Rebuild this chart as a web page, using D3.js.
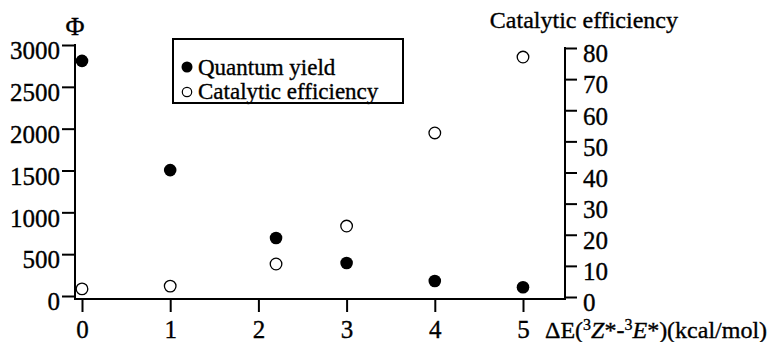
<!DOCTYPE html>
<html>
<head>
<meta charset="utf-8">
<script src="https://cdn.jsdelivr.net/npm/d3@7"></script>
<style>
  body { margin: 0; background: #fff; }
  svg text { font-family: "Liberation Serif", "Times New Roman", "DejaVu Serif", serif; fill: #000; stroke: #000; stroke-width: 0.35px; }
</style>
</head>
<body>
<div class="chart"></div>
<script>
// data
var deltaE = [0, 1, 2.2, 3, 4, 5];
var quantumYield = [2810, 1505, 693, 394, 180, 105];
var catalyticEff = [2.6, 3.5, 10.6, 22.8, 52.7, 77.1];
var leftTicks = [0, 500, 1000, 1500, 2000, 2500, 3000];
var rightTicks = [0, 10, 20, 30, 40, 50, 60, 70, 80];
var xTicks = [0, 1, 2, 3, 4, 5];

var svgWidth = 770;
var svgHeight = 342;
var serif = "Liberation Serif, Times New Roman, serif";

var svg = d3.select(".chart")
  .append("svg")
  .attr("width", svgWidth)
  .attr("height", svgHeight);

var xScale = d3.scaleLinear().domain([0, 5]).range([82, 523]);
var yLeft = d3.scaleLinear().domain([0, 3000]).range([296, 45]);
var yRight = d3.scaleLinear().domain([0, 80]).range([297, 48]);

var axisLeftX = 75, axisRightX = 565, axisBottomY = 299;

// left axis
var leftAxis = d3.axisLeft(yLeft).tickValues(leftTicks).tickFormat(d3.format("d"))
  .tickSize(13).tickSizeOuter(0).tickPadding(2);
var gl = svg.append("g")
  .attr("transform", "translate(" + axisLeftX + ",0)")
  .call(leftAxis);
gl.attr("font-family", serif);
gl.select(".domain").remove();
gl.selectAll("line").attr("stroke", "#000").attr("stroke-width", 2);
gl.selectAll("text").attr("font-size", "25px").attr("dy", "0.55em");

// right axis
var rightAxis = d3.axisRight(yRight).tickValues(rightTicks).tickFormat(d3.format("d"))
  .tickSize(12).tickSizeOuter(0).tickPadding(6);
var gr = svg.append("g")
  .attr("transform", "translate(" + axisRightX + ",0)")
  .call(rightAxis);
gr.attr("font-family", serif);
gr.select(".domain").remove();
gr.selectAll("line").attr("stroke", "#000").attr("stroke-width", 2);
gr.selectAll("text").attr("font-size", "25px").attr("dy", "0.55em");

// bottom axis
var bottomAxis = d3.axisBottom(xScale).tickValues(xTicks).tickFormat(d3.format("d"))
  .tickSize(13).tickSizeOuter(0);
var gb = svg.append("g")
  .attr("transform", "translate(0," + axisBottomY + ")")
  .call(bottomAxis);
gb.attr("font-family", serif);
gb.select(".domain").remove();
gb.selectAll("line").attr("stroke", "#000").attr("stroke-width", 2);
gb.selectAll("text").attr("font-size", "25px").attr("y", 39).attr("dy", 0);

// axis lines
svg.append("line")
  .attr("x1", axisLeftX).attr("x2", axisLeftX)
  .attr("y1", yLeft(3000) - 1).attr("y2", axisBottomY + 1)
  .attr("stroke", "#000").attr("stroke-width", 2);
svg.append("line")
  .attr("x1", axisRightX).attr("x2", axisRightX)
  .attr("y1", yRight(80) - 1).attr("y2", axisBottomY + 1)
  .attr("stroke", "#000").attr("stroke-width", 2);
svg.append("line")
  .attr("x1", axisLeftX).attr("x2", axisRightX)
  .attr("y1", axisBottomY).attr("y2", axisBottomY)
  .attr("stroke", "#000").attr("stroke-width", 2);

// axis titles
svg.append("text")
  .attr("x", axisLeftX).attr("y", 35)
  .attr("text-anchor", "middle")
  .attr("font-size", "26px")
  .text("Φ");

svg.append("text")
  .attr("x", 678).attr("y", 28)
  .attr("text-anchor", "end")
  .attr("font-size", "24px")
  .text("Catalytic efficiency");

var xLabel = svg.append("text")
  .attr("x", 545).attr("y", 338)
  .attr("font-size", "24px");
xLabel.append("tspan").text("ΔE(");
xLabel.append("tspan").attr("font-size", "16px").attr("dy", -8).text("3");
xLabel.append("tspan").attr("font-style", "italic").attr("dy", 8).text("Z");
xLabel.append("tspan").text("*-");
xLabel.append("tspan").attr("font-size", "16px").attr("dy", -8).text("3");
xLabel.append("tspan").attr("font-style", "italic").attr("dy", 8).text("E");
xLabel.append("tspan").text("*)(kcal/mol)");

// points
svg.selectAll(".qy")
  .data(deltaE)
  .enter().append("circle")
  .attr("class", "qy")
  .attr("cx", function(d) { return xScale(d); })
  .attr("cy", function(d, i) { return yLeft(quantumYield[i]); })
  .attr("r", 6.3)
  .attr("fill", "#000");

svg.selectAll(".ce")
  .data(deltaE)
  .enter().append("circle")
  .attr("class", "ce")
  .attr("cx", function(d) { return xScale(d); })
  .attr("cy", function(d, i) { return yRight(catalyticEff[i]); })
  .attr("r", 5.8)
  .attr("fill", "#fff")
  .attr("stroke", "#000")
  .attr("stroke-width", 1.3);

// legend
var legend = svg.append("g");
legend.append("rect")
  .attr("x", 173).attr("y", 39)
  .attr("width", 230).attr("height", 64)
  .attr("fill", "none").attr("stroke", "#000").attr("stroke-width", 2);
legend.append("circle")
  .attr("cx", 187).attr("cy", 67).attr("r", 5.5).attr("fill", "#000");
legend.append("text")
  .attr("x", 198).attr("y", 75).attr("font-size", "23px")
  .text("Quantum yield");
legend.append("circle")
  .attr("cx", 187).attr("cy", 92).attr("r", 4.7).attr("fill", "#fff")
  .attr("stroke", "#000").attr("stroke-width", 1.2);
legend.append("text")
  .attr("x", 198).attr("y", 99).attr("font-size", "23px")
  .text("Catalytic efficiency");
</script>
</body>
</html>
